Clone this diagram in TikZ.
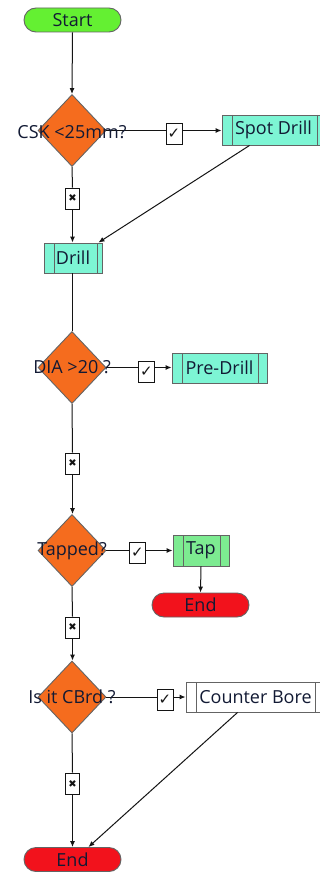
\documentclass[tikz,border=0pt]{standalone}
\usepackage{fontspec}
\setmainfont{Open Sans}
\newfontfamily\symfont{DejaVu Sans}
\usetikzlibrary{shapes.geometric,arrows.meta,calc}
\definecolor{startg}{RGB}{100,240,50}
\definecolor{endr}{RGB}{242,18,28}
\definecolor{diaor}{RGB}{245,108,30}
\definecolor{aqua}{RGB}{125,245,212}
\definecolor{tapg}{RGB}{125,235,145}
\definecolor{bordc}{RGB}{100,100,100}
\definecolor{txtc}{RGB}{18,26,52}
\definecolor{linec}{RGB}{20,20,20}
\newcommand\txtfont{\fontsize{18}{20}\selectfont}
\tikzset{
  bd/.style={draw=bordc, line width=0.9pt},
  term/.style={bd, rounded corners=12pt, minimum width=97pt, minimum height=24pt, inner sep=0pt, font=\txtfont, text=txtc},
  dia/.style={bd, shape=diamond, fill=diaor, minimum width=68pt, minimum height=72pt, inner sep=0pt},
  dlab/.style={font=\txtfont, text=txtc, inner sep=0pt},
  proc/.style={bd, minimum height=30pt, inner sep=0pt, font=\txtfont, text=txtc,
    path picture={
      \draw[bordc, line width=0.9pt] ([xshift=10pt]path picture bounding box.north west) -- ([xshift=10pt]path picture bounding box.south west);
      \draw[bordc, line width=0.9pt] ([xshift=-#1]path picture bounding box.north east) -- ([xshift=-#1]path picture bounding box.south east);
    }},
  proc/.default=9pt,
  chk/.style={draw=linec, line width=0.9pt, fill=white, minimum width=16pt, minimum height=21pt, inner sep=0pt, font=\symfont\fontsize{15}{15}\selectfont, text=linec},
  crs/.style={draw=linec, line width=0.9pt, fill=white, minimum width=14pt, minimum height=21pt, inner sep=0pt, font=\symfont\fontsize{10}{10}\selectfont, text=linec},
  ln/.style={draw=linec, line width=1pt},
  arr/.style={ln, -{Latex[length=6pt,width=5pt]}}
}
\begin{document}
\begin{tikzpicture}[x=1pt,y=-1pt]
\useasboundingbox[fill=white] (0,0) rectangle (320,872);
% nodes
\node[term, fill=startg] (start) at (72.5,20) {Start};
\node[dia] (d1) at (72,130.5) {};
\node[proc=8pt, fill=aqua, minimum width=103pt] (spot) at (273.5,130) {Spot Drill};
\node[chk] (c1) at (174,133.5) {✓};
\node[crs] (x1) at (72.5,198.5) {✖};
\node[proc=5pt, fill=aqua, minimum width=58pt] (drill) at (73,258) {Drill};
\node[dia] (d2) at (72,367.5) {};
\node[proc, fill=aqua, minimum width=95pt] (pre) at (219.5,368) {Pre-Drill};
\node[chk] (c2) at (146.5,371.5) {✓};
\node[crs] (x2) at (72.5,463.5) {✖};
\node[dia] (d3) at (72,550.5) {};
\node[proc, fill=tapg, minimum width=56pt, minimum height=31pt] (tap) at (201,550.5) {Tap};
\node[chk] (c3) at (137.5,553) {✓};
\node[term, fill=endr] (end1) at (200.5,605) {End};
\node[crs] (x3) at (72.5,627.5) {✖};
\node[dia] (d4) at (72,697) {};
\node[proc=10pt, fill=white, minimum width=139pt] (cb) at (255.5,697) {Counter Bore};
\node[chk] (c4) at (165,700) {✓};
\node[crs] (x4) at (72.5,783.5) {✖};
\node[term, fill=endr] (end2) at (72.5,859.5) {End};
% vertical connectors
\draw[arr] (start.south) -- (d1.north);
\draw[ln] (d1.south) -- (x1.north);
\draw[arr] (x1.south) -- (drill.north -| x1.south);
\draw[ln] (drill.south -| d2.north) -- (d2.north);
\draw[ln] (d2.south) -- (x2.north);
\draw[arr] (x2.south) -- (d3.north -| x2.south);
\draw[ln] (d3.south) -- (x3.north);
\draw[arr] (x3.south) -- (d4.north -| x3.south);
\draw[ln] (d4.south) -- (x4.north);
\draw[arr] (x4.south) -- (end2.north -| x4.south);
\draw[arr] (tap.south) -- (end1.north);
% yes branches
\draw[ln] (d1.east) -- (d1.east -| c1.west);
\draw[arr] (d1.east -| c1.east) -- (d1.east -| spot.west);
\draw[ln] (d2.east) -- (d2.east -| c2.west);
\draw[arr] (d2.east -| c2.east) -- (d2.east -| pre.west);
\draw[ln] (d3.east) -- (d3.east -| c3.west);
\draw[arr] (d3.east -| c3.east) -- (d3.east -| tap.west);
\draw[ln] (d4.east) -- (d4.east -| c4.west);
\draw[arr] (d4.east -| c4.east) -- (d4.east -| cb.west);
% diagonal returns
\draw[arr] ([xshift=28pt]spot.south west) -- ([xshift=-4pt]drill.north east);
\draw[arr] ([xshift=52pt]cb.south west) -- ([xshift=-33pt]end2.north east);
% diamond labels
\node[dlab] (l1) at ([yshift=-1.5pt]d1.center) {CSK <25mm?};
\node[dlab] (l2) at (d2.center) {DIA >20 ?};
\node[dlab] (l3) at (d3.center) {Tapped?};
\node[dlab] (l4) at (d4.center) {Is it CBrd ?};
\end{tikzpicture}
\end{document}
